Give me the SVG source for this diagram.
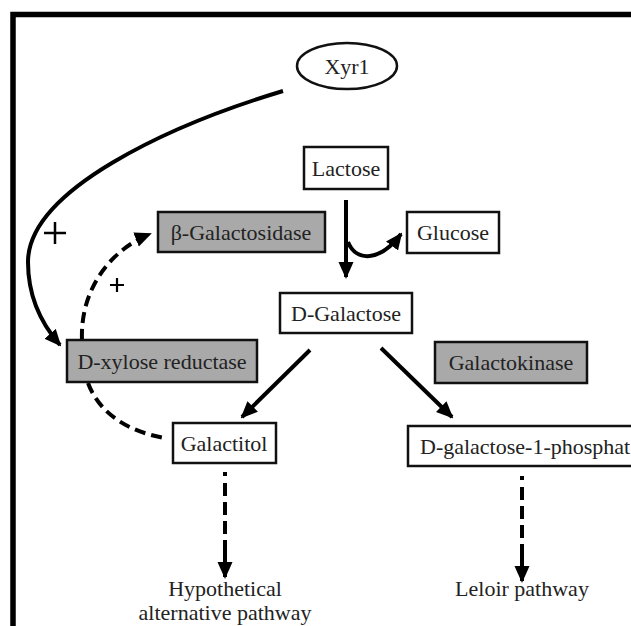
<svg xmlns="http://www.w3.org/2000/svg" width="631" height="626" viewBox="0 0 631 626">
<style>
text{font-family:"Liberation Serif","Times New Roman",serif;font-size:22px;fill:#222;text-anchor:middle}
.box{fill:#fff;stroke:#111;stroke-width:2.5}
.gray{fill:#a9a9a9;stroke:#111;stroke-width:2.5}
.ln{fill:none;stroke:#000;stroke-width:4}
.dash{fill:none;stroke:#000;stroke-width:4;stroke-dasharray:11 6}
.vd{fill:none;stroke:#000;stroke-width:4;stroke-dasharray:4 7 13 6 13 6 13 6 40}
</style>
<defs>
<marker id="ah" markerUnits="userSpaceOnUse" markerWidth="17" markerHeight="17" viewBox="0 0 17 17" refX="15" refY="8.5" orient="auto">
<path d="M0,1 L17,8.5 L0,16 Z" fill="#000"/>
</marker>
</defs>
<path d="M13 626 V14.5 H631" fill="none" stroke="#000" stroke-width="5.5"/>
<g id="connectors">
<path class="ln" d="M283 91 C170 125 28 190 28 262 C28 300 45 328 60 345" marker-end="url(#ah)"/>
<path class="dash" d="M82 340 C80 290 110 250 150 234" marker-end="url(#ah)"/>
<path class="dash" d="M88 383 C100 415 130 432 165 438"/>
<path class="ln" d="M346 200 V277" marker-end="url(#ah)"/>
<path class="ln" d="M348 242 C356 262 380 262 401 234" marker-end="url(#ah)"/>
<path class="ln" d="M310 350 L242 417" marker-end="url(#ah)"/>
<path class="ln" d="M381 348 L452 417" marker-end="url(#ah)"/>
<path class="vd" d="M225 472 V577" marker-end="url(#ah)"/>
<path class="vd" d="M522 476 V581" marker-end="url(#ah)"/>
</g>
<g id="plus1"><path d="M44 233 H66 M55 222 V244" stroke="#000" stroke-width="2.5"/></g>
<g id="plus2"><path d="M110 285 H124 M117 278 V292" stroke="#000" stroke-width="2.2"/></g>
<g id="xyr1"><ellipse cx="347" cy="66" rx="50" ry="23" fill="#fff" stroke="#111" stroke-width="2.5"/><text x="347" y="74">Xyr1</text></g>
<g id="lactose"><rect class="box" x="304" y="147" width="84" height="42"/><text x="346" y="176">Lactose</text></g>
<g id="bgal"><rect class="gray" x="158" y="212" width="167" height="40"/><text x="241" y="240">β-Galactosidase</text></g>
<g id="glucose"><rect class="box" x="407" y="212" width="92" height="41"/><text x="453" y="240">Glucose</text></g>
<g id="dgalactose"><rect class="box" x="280" y="293" width="132" height="40"/><text x="346" y="321">D-Galactose</text></g>
<g id="xylred"><rect class="gray" x="67" y="340" width="190" height="42"/><text x="162" y="369">D-xylose reductase</text></g>
<g id="galactokinase"><rect class="gray" x="435" y="342" width="152" height="41"/><text x="511" y="370">Galactokinase</text></g>
<g id="galactitol"><rect class="box" x="173" y="423" width="103" height="40"/><text x="224" y="451">Galactitol</text></g>
<g id="dgal1p"><rect class="box" x="408" y="426" width="240" height="40"/><text x="420" y="454" style="text-anchor:start">D-galactose-1-phosphat</text></g>
<g id="hypo"><text x="225" y="596">Hypothetical</text><text x="225" y="620">alternative pathway</text></g>
<g id="leloir"><text x="522" y="596">Leloir pathway</text></g>
</svg>
